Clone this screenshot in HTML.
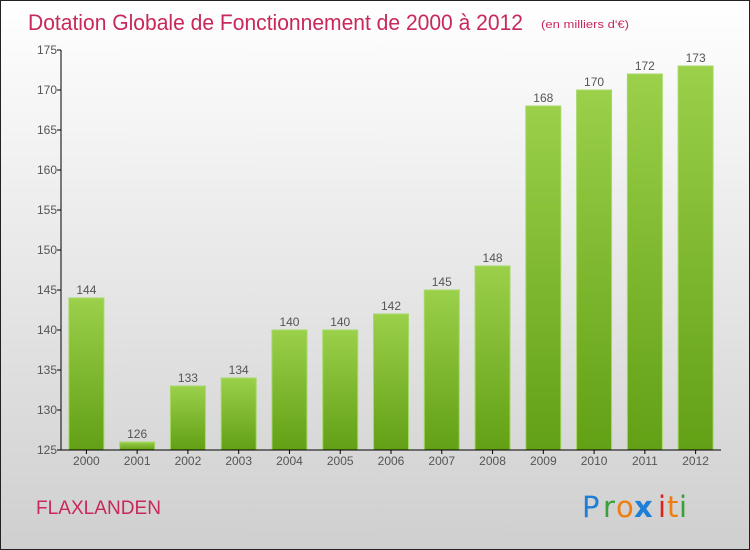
<!DOCTYPE html>
<html><head><meta charset="utf-8"><style>
body{margin:0}
svg{display:block;font-family:"Liberation Sans",sans-serif}
</style></head><body>
<svg width="750" height="550" viewBox="0 0 750 550">
<defs>
<linearGradient id="bg" x1="0" y1="0" x2="0" y2="1"><stop offset="0" stop-color="#ffffff"/><stop offset="1" stop-color="#cfcfcf"/></linearGradient>
<linearGradient id="bar" x1="0" y1="0" x2="0" y2="1"><stop offset="0" stop-color="#9bd04a"/><stop offset="1" stop-color="#62a015"/></linearGradient>
</defs>
<rect x="0.5" y="0.5" width="749" height="549" fill="url(#bg)" stroke="#222"/>
<text x="28" y="30" font-size="22" fill="#c8285a" textLength="495" lengthAdjust="spacingAndGlyphs">Dotation Globale de Fonctionnement de 2000 à 2012</text>
<text x="541" y="28" font-size="11" fill="#c8285a" textLength="88" lengthAdjust="spacingAndGlyphs">(en milliers d'€)</text>
<g id="plot"></g>
<text x="36" y="514" font-size="19" fill="#c8285a" textLength="125" lengthAdjust="spacingAndGlyphs">FLAXLANDEN</text>
<g font-size="29" font-family="'DejaVu Sans',sans-serif">
<text x="582" y="517" fill="#1e7fd8">P</text><text x="603" y="517" fill="#3aa03a">r</text><text x="616" y="517" fill="#f07d10">o</text><text x="634" y="517" fill="#1e7fd8" font-weight="bold">x</text><text x="658" y="517" fill="#e0201a">i</text><text x="667" y="517" fill="#f07d10">t</text><text x="679" y="517" fill="#3aa03a">i</text>
</g>
</svg>
<script>
const categories=["2000","2001","2002","2003","2004","2005","2006","2007","2008","2009","2010","2011","2012"];
const values=[144,126,133,134,140,140,142,145,148,168,170,172,173];
const yTicks=[125,130,135,140,145,150,155,160,165,170,175];
const NS="http://www.w3.org/2000/svg";
const g=document.getElementById('plot');
const x0=61,x1=721,yMin=125,yMax=175,py0=450,py1=50;
const y=v=>py0-(v-yMin)/(yMax-yMin)*(py0-py1);
const band=(x1-x0)/categories.length;
const xc=i=>x0+(i+0.5)*band;
function el(t,a){const e=document.createElementNS(NS,t);for(const k in a)e.setAttribute(k,a[k]);g.appendChild(e);return e;}
values.forEach((v,i)=>{
 const r=el('rect',{x:xc(i)-17.5,y:y(v),width:35,height:py0-y(v),fill:'url(#bar)',stroke:'#a8d86a','stroke-width':1});
 
 
 const t=el('text',{x:xc(i),y:y(v)-4,'font-size':12,fill:'#555','text-anchor':'middle'});
 t.textContent=v;
 
 
 const xl=el('text',{x:xc(i),y:py0+15,'font-size':12,fill:'#555','text-anchor':'middle'});
 xl.textContent=categories[i];
 
 
 const tk=el('line',{x1:xc(i),x2:xc(i),y1:py0,y2:py0+4,stroke:'#000'});
 
 
});
yTicks.forEach(v=>{
 const l=el('line',{x1:x0-4,x2:x0,y1:y(v),y2:y(v),stroke:'#000'});
 
 
 const t=el('text',{x:x0-4,y:y(v)+4,'font-size':12,fill:'#555','text-anchor':'end'});
 t.textContent=v;
 
 
});
const ya=el('line',{x1:x0,x2:x0,y1:py1,y2:py0,stroke:'#000'});


const xa=el('line',{x1:x0,x2:x1,y1:py0,y2:py0,stroke:'#000'});


</script>
</body></html>
